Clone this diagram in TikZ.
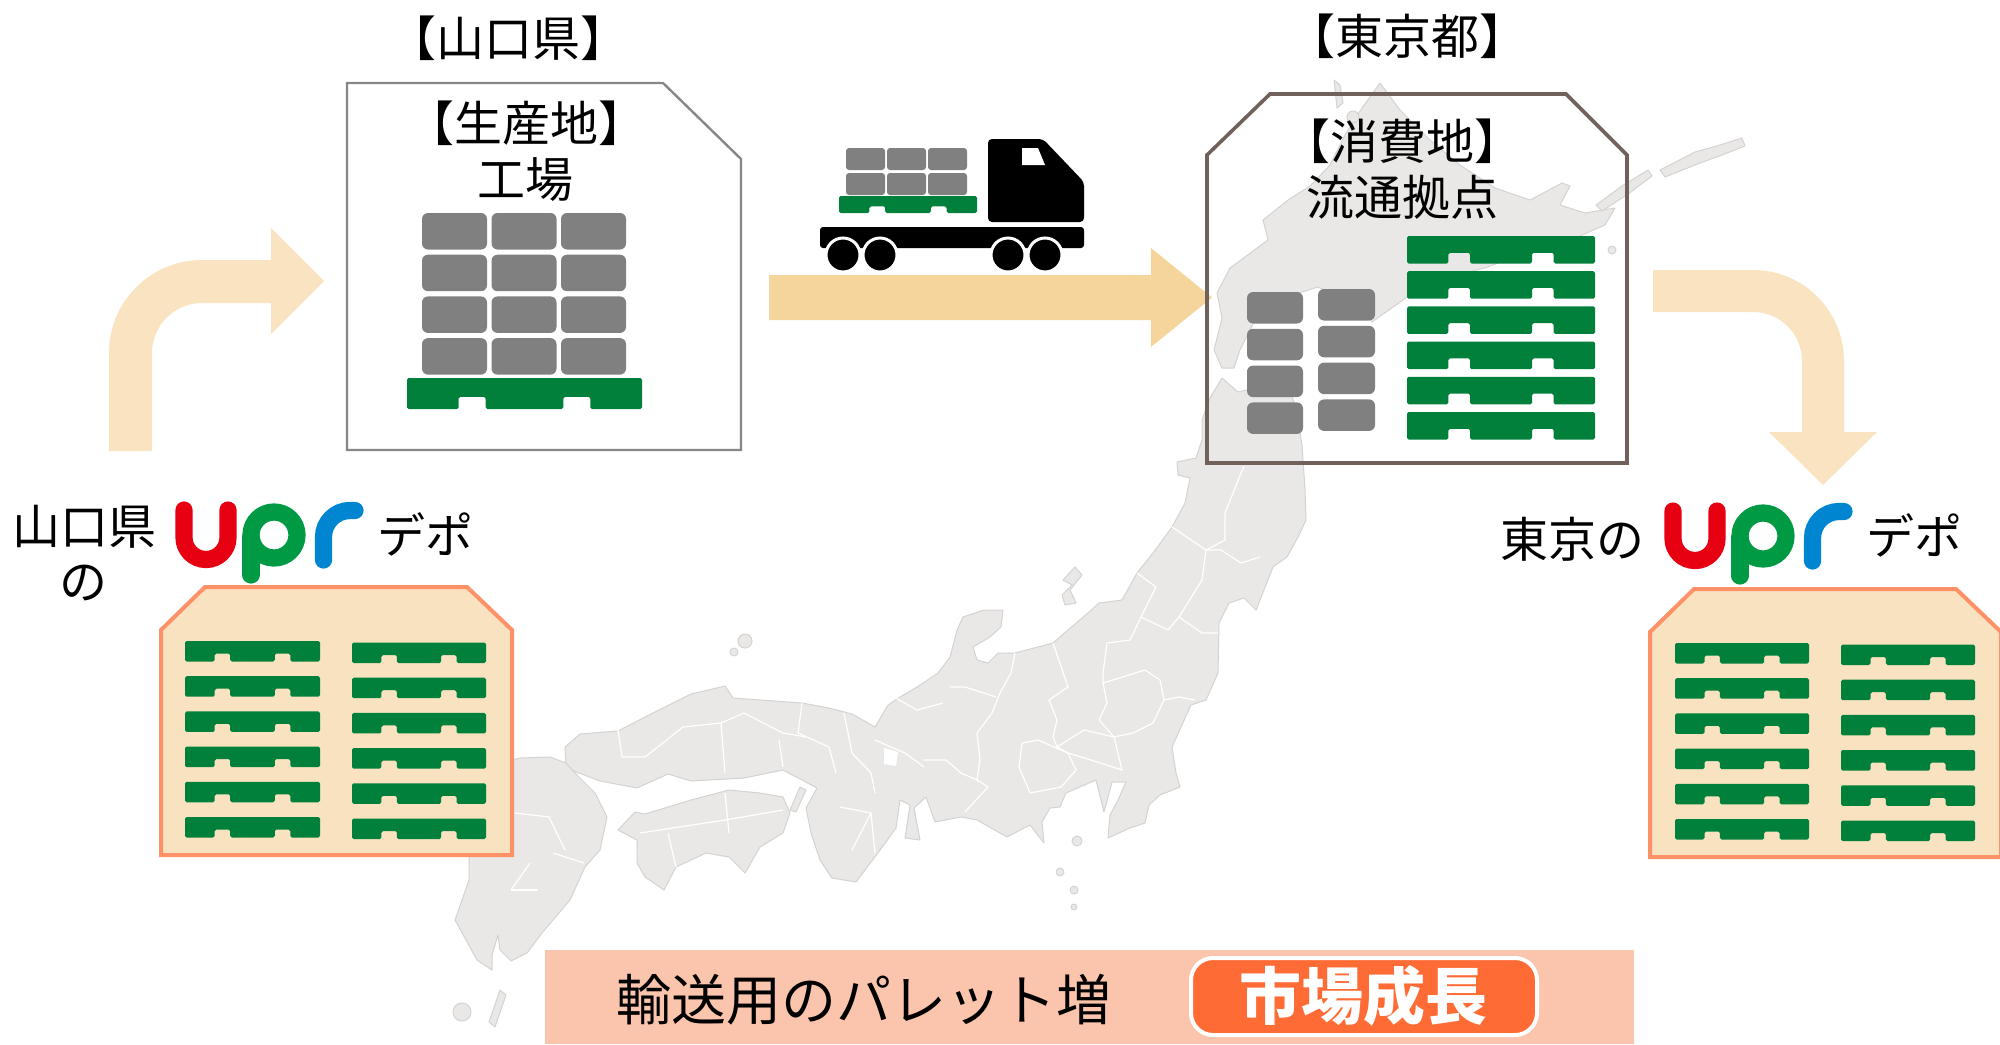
\documentclass[tikz,border=0pt]{standalone}
\usepackage{fontspec}
\newfontfamily\jp{Noto Sans CJK JP}
\definecolor{mapgray}{RGB}{233,232,230}
\definecolor{mapedge}{RGB}{212,211,209}
\definecolor{arrowlight}{RGB}{249,227,192}
\definecolor{arrowmid}{RGB}{245,213,156}
\definecolor{palgreen}{RGB}{0,128,58}
\definecolor{boxgray}{RGB}{128,128,128}
\definecolor{depotfill}{RGB}{249,226,191}
\definecolor{depotline}{RGB}{255,145,105}
\definecolor{dcline}{RGB}{112,97,90}
\definecolor{factline}{RGB}{135,135,135}
\definecolor{bannerfill}{RGB}{251,196,172}
\definecolor{growthfill}{RGB}{255,107,53}
\definecolor{uprred}{RGB}{230,0,18}
\definecolor{uprgreen}{RGB}{0,153,68}
\definecolor{uprblue}{RGB}{0,134,209}

% pallet seen from the side: x, y (top left), width, height
\newcommand\palletat[4]{%
  \fill[palgreen, rounded corners=0.8pt]
    (#1,#2) -- ({#1+#3},#2) -- ({#1+#3},{#2+#4})
    -- ({#1+0.78*#3},{#2+#4}) -- ({#1+0.78*#3},{#2+0.61*#4})
    -- ({#1+0.665*#3},{#2+0.61*#4}) -- ({#1+0.665*#3},{#2+#4})
    -- ({#1+0.335*#3},{#2+#4}) -- ({#1+0.335*#3},{#2+0.61*#4})
    -- ({#1+0.22*#3},{#2+0.61*#4}) -- ({#1+0.22*#3},{#2+#4})
    -- (#1,{#2+#4}) -- cycle;}
% load carton: x, y, width, height, corner radius
\newcommand\crate[5]{%
  \fill[boxgray, rounded corners=#5] (#1,#2) rectangle ({#1+#3},{#2+#4});}
% upr logo, shifted by (dx,dy)
\newcommand\uprlogo[2]{%
  \begin{scope}[shift={(#1,#2)}, line width=8.6pt, line cap=round]
    \draw[uprred] (184,510) -- (184,537.5) arc[start angle=180,end angle=0,radius=22] -- (228,510);
    \draw[uprgreen] (251,537) -- (251,575);
    \draw[uprgreen] (274,535) circle[radius=23];
    \draw[uprblue] (323.5,560) -- (323.5,537) arc[start angle=180,end angle=270,radius=26.5] -- (355,510.5);
  \end{scope}}

\begin{document}
\begin{tikzpicture}[x=0.5pt,y=-0.5pt,
  lbl/.style={font=\jp\fontsize{24}{29}\selectfont, inner sep=0pt},
  land/.style={fill=mapgray, draw=mapedge, line width=0.5pt, line join=round},
  border/.style={draw=white, line width=0.6pt, line join=round},
  depot/.style={fill=depotfill, draw=depotline, line width=2pt, line join=miter}]
\useasboundingbox (0,0) rectangle (2000,1044);

% ---------- background map of Japan ----------
% Hokkaido
\path[land] (1380,83) -- (1400,110) -- (1430,140) -- (1460,165) -- (1495,188) -- (1530,200)
  -- (1562,183) -- (1570,186) -- (1560,205) -- (1585,213) -- (1615,208) -- (1605,225)
  -- (1575,238) -- (1545,248) -- (1515,256) -- (1488,267) -- (1450,277) -- (1410,295)
  -- (1372,322) -- (1355,305) -- (1318,287) -- (1296,294) -- (1284,306) -- (1275,298)
  -- (1260,306) -- (1252,326) -- (1240,350) -- (1234,368) -- (1222,368) -- (1214,350)
  -- (1222,318) -- (1217,293) -- (1230,268) -- (1268,240) -- (1263,220) -- (1288,200)
  -- (1310,186) -- (1330,165) -- (1345,135) -- (1362,108) -- cycle;
\path[land] (1334,80) -- (1340,85) -- (1343,103) -- (1337,108) -- cycle;
\path[land] (1353,117) circle[radius=6];
\path[land] (1596,205) -- (1622,186) -- (1648,170) -- (1652,176) -- (1628,194) -- (1602,211) -- cycle;
\path[land] (1660,170) -- (1695,152) -- (1720,145) -- (1742,138) -- (1745,146) -- (1722,155) -- (1700,163) -- (1665,177) -- cycle;
\path[land] (1612,250) circle[radius=4];
% Honshu
\path[land] (1222,378) -- (1238,392) -- (1255,388) -- (1262,380) -- (1280,370) -- (1298,375)
  -- (1292,395) -- (1298,420) -- (1302,445) -- (1305,490) -- (1306,520) -- (1298,537)
  -- (1287,557) -- (1273,567) -- (1262,595) -- (1256,610) -- (1244,598) -- (1229,603)
  -- (1219,623) -- (1218,673) -- (1206,700) -- (1191,705) -- (1172,747) -- (1176,773)
  -- (1180,787) -- (1160,795) -- (1149,805) -- (1145,823) -- (1130,828) -- (1108,838)
  -- (1110,815) -- (1118,800) -- (1126,782) -- (1112,782) -- (1104,812) -- (1096,780)
  -- (1066,793) -- (1060,807) -- (1050,808) -- (1042,822) -- (1044,843) -- (1030,825)
  -- (1007,837) -- (977,820) -- (961,817) -- (935,822) -- (926,797) -- (914,808)
  -- (920,840) -- (905,838) -- (910,805) -- (900,800) -- (896,828) -- (880,850)
  -- (856,882) -- (832,878) -- (820,860) -- (811,833) -- (806,808) -- (817,788)
  -- (783,770) -- (744,778) -- (691,781) -- (668,774) -- (637,788) -- (600,781)
  -- (566,768) -- (565,747) -- (580,734) -- (618,731) -- (645,717) -- (691,694)
  -- (725,686) -- (733,698) -- (802,703) -- (829,708) -- (852,714) -- (875,727)
  -- (888,705) -- (900,697) -- (917,687) -- (938,673) -- (950,657) -- (957,630)
  -- (963,617) -- (984,610) -- (1003,610) -- (1001,627) -- (990,637) -- (973,647)
  -- (977,660) -- (988,663) -- (998,653) -- (1015,653) -- (1053,643) -- (1068,630)
  -- (1088,613) -- (1099,603) -- (1122,600) -- (1137,573) -- (1153,553) -- (1172,527)
  -- (1185,503) -- (1190,478) -- (1178,475) -- (1177,462) -- (1196,458) -- (1202,440)
  -- (1202,420) -- (1210,398) -- cycle;
\fill[white] (884,748) -- (898,752) -- (896,766) -- (884,764) -- cycle;
% Shikoku, Awaji, Kyushu and small islands
\path[land] (618,830) -- (635,812) -- (645,814) -- (691,800) -- (729,790) -- (760,793)
  -- (783,797) -- (790,813) -- (783,833) -- (760,847) -- (745,873) -- (729,857)
  -- (706,853) -- (676,867) -- (664,890) -- (645,877) -- (637,863) -- (637,840) -- cycle;
\path[land] (800,787) -- (806,790) -- (796,812) -- (790,810) -- cycle;
\path[land] (470,770) -- (520,758) -- (550,757) -- (566,763) -- (578,776) -- (595,793)
  -- (607,817) -- (600,850) -- (585,867) -- (570,900) -- (542,933) -- (527,953)
  -- (511,961) -- (500,950) -- (498,935) -- (492,955) -- (492,970) -- (477,960)
  -- (466,940) -- (455,920) -- (462,900) -- (469,880) -- (469,860) -- (470,840)
  -- (455,830) -- cycle;
\path[land] (500,990) -- (506,995) -- (495,1027) -- (489,1022) -- cycle;
\path[land] (462,1012) circle[radius=9];
\path[land] (1075,567) -- (1082,575) -- (1070,590) -- (1076,603) -- (1065,605) -- (1062,595) -- (1072,585) -- (1063,580) -- cycle;
\path[land] (745,641) circle[radius=7];
\path[land] (734,652) circle[radius=4];
\path[land] (1077,841) circle[radius=5];
\path[land] (1060,872) circle[radius=4];
\path[land] (1074,890) circle[radius=4];
\path[land] (1074,907) circle[radius=3];
% prefecture borders
\path[border] (1172,527) -- (1206,550) -- (1221,550) -- (1241,563) -- (1260,557);
\path[border] (1244,466) -- (1237,483) -- (1225,513) -- (1225,540) -- (1206,550);
\path[border] (1206,550) -- (1202,580) -- (1179,617) -- (1202,633) -- (1218,633);
\path[border] (1137,573) -- (1156,587) -- (1141,617) -- (1168,630) -- (1179,617);
\path[border] (1141,617) -- (1130,640) -- (1107,643) -- (1103,673) -- (1103,683)
  -- (1145,670) -- (1160,680) -- (1164,700) -- (1179,697) -- (1195,700);
\path[border] (1103,683) -- (1107,703) -- (1099,720) -- (1114,737) -- (1133,733) -- (1153,723) -- (1164,700);
\path[border] (1114,737) -- (1122,770);
\path[border] (1053,643) -- (1068,687) -- (1049,700) -- (1057,720) -- (1053,737) -- (1057,747)
  -- (1084,730) -- (1114,737);
\path[border] (1057,747) -- (1068,753) -- (1091,760) -- (1122,770);
\path[border] (1015,653) -- (1011,673) -- (1000,693) -- (992,713) -- (977,733) -- (980,760) -- (977,780);
\path[border] (1022,743) -- (1038,740) -- (1068,753) -- (1076,770) -- (1061,787) -- (1030,793) -- (1019,767) -- (1022,743);
\path[border] (977,780) -- (988,787) -- (965,812);
\path[border] (950,687) -- (965,687) -- (996,697);
\path[border] (923,760) -- (946,760) -- (961,773) -- (977,780);
\path[border] (618,730) -- (622,757) -- (637,757) -- (645,757) -- (683,727) -- (721,723) -- (725,773);
\path[border] (721,723) -- (744,713) -- (783,733) -- (806,737);
\path[border] (779,740) -- (783,767);
\path[border] (802,703) -- (798,733) -- (829,747) -- (836,773);
\path[border] (844,713) -- (852,753) -- (871,773) -- (875,793);
\path[border] (840,807) -- (871,813) -- (852,850);
\path[border] (871,813) -- (875,853);
\path[border] (875,740) -- (905,753) -- (924,767);
\path[border] (894,697) -- (917,710) -- (943,703);
\path[border] (640,833) -- (725,820) -- (783,810);
\path[border] (725,793) -- (729,833);
\path[border] (668,833) -- (676,867);
\path[border] (515,813) -- (549,817) -- (565,850);
\path[border] (530,863) -- (511,890);
\path[border] (511,890) -- (538,890);
\path[border] (553,853) -- (584,863);

% ---------- flow arrows ----------
\fill[arrowlight] (109,451) -- (109,353) arc[start angle=180,end angle=270,radius=93]
  -- (271,260) -- (271,228) -- (324,281) -- (271,334) -- (271,303) -- (202,303)
  arc[start angle=270,end angle=180,radius=50] -- (152,451) -- cycle;
\fill[arrowmid] (769,275) -- (1151,275) -- (1151,248) -- (1212,297.5) -- (1151,347)
  -- (1151,320) -- (769,320) -- cycle;
\fill[arrowlight] (1653,270) -- (1753,270) arc[start angle=270,end angle=360,radius=91]
  -- (1844,432) -- (1877,432) -- (1823,485) -- (1769,432) -- (1802,432) -- (1802,361)
  arc[start angle=0,end angle=-90,radius=49] -- (1653,312) -- cycle;

% ---------- production site ----------
\node[lbl] (prefA) at (508,38) {【山口県】};
\filldraw[fill=white, draw=factline, line width=1.2pt] (347,83) -- (663,83) -- (741,159)
  -- (741,450) -- (347,450) -- cycle;
\node[lbl] (factA) at (526,123) {【生産地】};
\node[lbl] (factB) at (525,180) {工場};
\foreach \ci in {0,1,2} {
  \foreach \ri in {0,...,3} {
    \crate{422+69.5*\ci}{213+41.7*\ri}{65}{36.5}{3pt}
  }
}
\palletat{407}{378}{235}{31}

% ---------- truck ----------
\foreach \ci in {0,1,2} {
  \foreach \ri in {0,1} {
    \crate{846+41*\ci}{148+25*\ri}{39}{22}{1.5pt}
  }
}
\palletat{839}{196}{138}{17}
\fill[black, rounded corners=2pt] (988,139) -- (1043,139) -- (1084,182) -- (1084,222) -- (988,222) -- cycle;
\fill[white] (1022,148) -- (1038,148) -- (1045,165) -- (1022,165) -- cycle;
\fill[black, rounded corners=1.5pt] (820,227) rectangle (1084,248);
\foreach \wx in {843,880,1008,1045} {
  \filldraw[fill=black, draw=white, line width=1.5pt] (\wx,255) circle[radius=17];
}

% ---------- consumption site ----------
\node[lbl] (prefB) at (1407,36) {【東京都】};
\draw[dcline, line width=1.8pt] (1270,94) -- (1566,94) -- (1627,155) -- (1627,463)
  -- (1207,463) -- (1207,155) -- cycle;
\node[lbl] (dcA) at (1402,141) {【消費地】};
\node[lbl] (dcB) at (1402,197) {流通拠点};
\foreach \ri in {0,...,3} {
  \crate{1247}{292+36.8*\ri}{56}{31.5}{3pt}
  \crate{1318}{289+36.8*\ri}{57}{31.5}{3pt}
}
\foreach \ri in {0,...,5} {
  \palletat{1407}{236+35.2*\ri}{188}{27.5}
}

% ---------- upr depots ----------
\node[lbl] (depA1) at (84,527) {山口県};
\node[lbl] (depA2) at (83,583) {の};
\node[lbl] (depA3) at (425,534) {デポ};
\uprlogo{0}{0}
\path[depot] (205,587) -- (467,587) -- (512,630) -- (512,855) -- (161,855) -- (161,630) -- cycle;
\foreach \ri in {0,...,5} {
  \palletat{185}{641+35.2*\ri}{135}{20.5}
  \palletat{352}{642.5+35.2*\ri}{134}{20.5}
}

\node[lbl] (depB1) at (1572,539) {東京の};
\node[lbl] (depB3) at (1914,535) {デポ};
\uprlogo{1489}{1}
\path[depot] (1694,589) -- (1956,589) -- (2001,632) -- (2001,857) -- (1650,857) -- (1650,632) -- cycle;
\foreach \ri in {0,...,5} {
  \palletat{1675}{643+35.2*\ri}{134}{20.5}
  \palletat{1841}{644.5+35.2*\ri}{134}{20.5}
}

% ---------- bottom banner ----------
\fill[bannerfill] (545,950) rectangle (1634,1044);
\node[font=\jp\fontsize{27.5}{32}\selectfont, inner sep=0pt] (gain) at (864,1000) {輸送用のパレット増};
\filldraw[fill=growthfill, draw=white, line width=2pt, rounded corners=11pt] (1191,958) rectangle (1537,1035);
\node[font=\jp\bfseries\fontsize{31}{35}\selectfont, text=white, inner sep=0pt] (growth) at (1363,996) {市場成長};
\end{tikzpicture}
\end{document}
